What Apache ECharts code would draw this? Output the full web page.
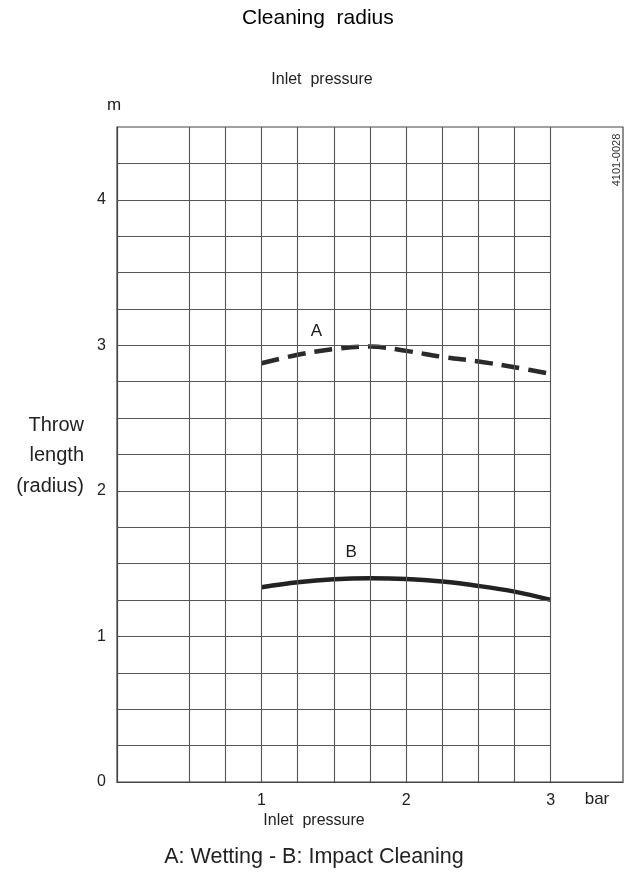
<!DOCTYPE html>
<html>
<head>
<meta charset="utf-8">
<script src="https://cdn.jsdelivr.net/npm/echarts@6/dist/echarts.min.js"></script>
<style>
html,body{margin:0;padding:0;background:#fff;}
#chart{width:626px;height:873px;}
</style>
</head>
<body>
<div id="chart"></div>
<script>
// ---- data ----
var pressure = [1, 1.25, 1.5, 1.75, 2, 2.25, 2.5, 2.75, 3];
var wettingA = [2.877, 2.935, 2.974, 2.992, 2.962, 2.921, 2.889, 2.850, 2.804];
var impactB  = [1.338, 1.372, 1.393, 1.400, 1.395, 1.377, 1.347, 1.308, 1.251];
var curveNames = ['A', 'B'];
var curveLabelPos = [[1.38, 3.093], [1.62, 1.581]];
var gridX = [0.5, 0.75, 1, 1.25, 1.5, 1.75, 2, 2.25, 2.5, 2.75, 3];
var gridY = [0.25, 0.5, 0.75, 1, 1.25, 1.5, 1.75, 2, 2.25, 2.5, 2.75, 3, 3.25, 3.5, 3.75, 4, 4.25];
var gridYEnd = 3;
var xTickLabels = ['1', '2', '3'];
var yTickLabels = ['0', '1', '2', '3', '4'];

var FONT = '"Liberation Sans", Arial, Helvetica, sans-serif';
var GRIDCOL = '#555';

function pairs(xs, ys) { return xs.map(function (x, i) { return [x, ys[i]]; }); }

var vLines = gridX.map(function (x) { return { xAxis: x }; });
var hLines = gridY.map(function (y) { return [{ coord: [0, y] }, { coord: [gridYEnd, y] }]; });

var chart = echarts.init(document.getElementById('chart'), null, { renderer: 'canvas' });
chart.setOption({
  animation: false,
  backgroundColor: '#fff',
  grid: { left: 117, right: 0, top: 127, bottom: 91, show: true, borderColor: '#444', borderWidth: 1.2 },
  xAxis: {
    type: 'value', min: 0, max: 3.5, interval: 1,
    axisLine: { show: true, lineStyle: { color: '#444', width: 1.2 } },
    axisTick: { show: false },
    splitLine: { show: false },
    axisLabel: {
      margin: 11, fontFamily: FONT, fontSize: 16, color: '#222',
      formatter: function (v) { var s = String(v); return xTickLabels.indexOf(s) >= 0 ? s : ''; }
    }
  },
  yAxis: {
    type: 'value', min: 0, max: 4.5, interval: 1,
    name: 'm', nameLocation: 'end', nameGap: 13,
    nameTextStyle: { fontFamily: FONT, fontSize: 17, color: '#222', align: 'center', padding: [0, 6, 0, 0] },
    axisLine: { show: true, lineStyle: { color: '#444', width: 1.2 } },
    axisTick: { show: false },
    splitLine: { show: false },
    axisLabel: {
      margin: 11, fontFamily: FONT, fontSize: 16, color: '#222',
      formatter: function (v) { var s = String(v); return yTickLabels.indexOf(s) >= 0 ? s : ''; }
    }
  },
  series: [
    {
      type: 'line', name: 'grid', data: [], silent: true,
      markLine: {
        silent: true, symbol: 'none', label: { show: false },
        lineStyle: { type: 'solid', color: GRIDCOL, width: 1.1 },
        data: vLines.concat(hLines)
      }
    },
    {
      type: 'line', name: 'A: Wetting', data: pairs(pressure, wettingA),
      smooth: 0.35, showSymbol: false, symbol: 'none',
      lineStyle: { color: '#2a2a2a', width: 4.5, type: [18, 9], cap: 'butt' }
    },
    {
      type: 'line', name: 'B: Impact Cleaning', data: pairs(pressure, impactB),
      smooth: 0.35, showSymbol: false, symbol: 'none',
      lineStyle: { color: '#222', width: 4.5, cap: 'butt' }
    },
    {
      type: 'scatter', symbolSize: 0, silent: true,
      itemStyle: { opacity: 1, color: '#222' },
      data: curveLabelPos.map(function (p, i) { return { value: p, name: curveNames[i] }; }),
      label: { show: true, position: 'inside', formatter: '{b}', fontFamily: FONT, fontSize: 17, color: '#1a1a1a', opacity: 1 }
    }
  ],
  graphic: [
    { type: 'text', left: 242, top: 8, style: { text: 'Cleaning  radius', font: '21px ' + FONT, fill: '#000' } },
    { type: 'text', x: 322, y: 80, style: { text: 'Inlet  pressure', font: '16px ' + FONT, fill: '#222', textAlign: 'center', textVerticalAlign: 'middle' } },
    { type: 'text', x: 314, y: 821, style: { text: 'Inlet  pressure', font: '16px ' + FONT, fill: '#222', textAlign: 'center', textVerticalAlign: 'middle' } },
    { type: 'text', x: 597, y: 799, style: { text: 'bar', font: '17px ' + FONT, fill: '#222', textAlign: 'center', textVerticalAlign: 'middle' } },
    { type: 'text', x: 617, y: 160, rotation: Math.PI / 2, style: { text: '4101-0028', font: '11px ' + FONT, fill: '#333', textAlign: 'center', textVerticalAlign: 'middle' } },
    { type: 'text', x: 314, y: 857, style: { text: 'A: Wetting - B: Impact Cleaning', font: '21.5px ' + FONT, fill: '#222', textAlign: 'center', textVerticalAlign: 'middle' } },
    { type: 'text', x: 84, y: 425, style: { text: 'Throw', font: '20px ' + FONT, fill: '#222', textAlign: 'right', textVerticalAlign: 'middle' } },
    { type: 'text', x: 84, y: 455, style: { text: 'length', font: '20px ' + FONT, fill: '#222', textAlign: 'right', textVerticalAlign: 'middle' } },
    { type: 'text', x: 84, y: 486, style: { text: '(radius)', font: '20px ' + FONT, fill: '#222', textAlign: 'right', textVerticalAlign: 'middle' } }
  ]
});
</script>
</body>
</html>
